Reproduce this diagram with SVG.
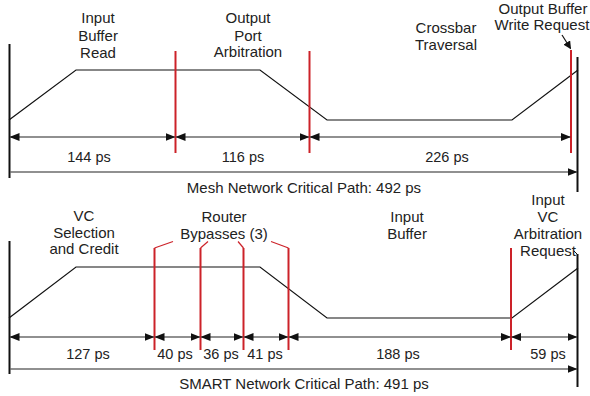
<svg xmlns="http://www.w3.org/2000/svg" width="590" height="396" viewBox="0 0 590 396">
<defs>
<marker id="ah" markerWidth="10" markerHeight="8" refX="9" refY="4" orient="auto-start-reverse" markerUnits="userSpaceOnUse">
<path d="M0,0 L10,4 L0,8 Z" fill="#111"/>
</marker>
<marker id="sh" markerWidth="8" markerHeight="8" refX="7" refY="4" orient="auto" markerUnits="userSpaceOnUse">
<path d="M0,0 L8,4 L0,8 Z" fill="#111"/>
</marker>
<style>
text{font-family:"Liberation Sans",Arial,sans-serif;font-size:15px;fill:#222;text-anchor:middle}
text.d{font-size:14.5px}
.bar{stroke:#111;stroke-width:2;fill:none}
.red{stroke:#cc2229;stroke-width:2;fill:none}
.redthin{stroke:#cc2229;stroke-width:1.2;fill:none}
.wave{stroke:#111;stroke-width:1.2;fill:none}
.dim{stroke:#222;stroke-width:1.2;fill:none;marker-start:url(#ah);marker-end:url(#ah)}
.tot{stroke:#222;stroke-width:1.2;fill:none;marker-end:url(#ah)}
</style>
</defs>

<g id="mesh">
<g id="mesh-labels">
<text x="98" y="23">Input</text>
<text x="98" y="41">Buffer</text>
<text x="98" y="58">Read</text>
<text x="248" y="23">Output</text>
<text x="248" y="41">Port</text>
<text x="248" y="57">Arbitration</text>
<text x="446" y="33">Crossbar</text>
<text x="446" y="50">Traversal</text>
<text x="543" y="14">Output Buffer</text>
<text x="542" y="30">Write Request</text>
<text class="d" x="89" y="162">144 ps</text>
<text class="d" x="243" y="162">116 ps</text>
<text class="d" x="447" y="162">226 ps</text>
<text x="304" y="193">Mesh Network Critical Path: 492 ps</text>
</g>
<g id="mesh-wave">
<polyline class="wave" points="9,120 76,70 260,70 327,120 512,120 578,70"/>
</g>
<g id="mesh-bars">
<line class="bar" x1="9.5" y1="44" x2="9.5" y2="178"/>
<line class="bar" x1="577.5" y1="57" x2="577.5" y2="192"/>
<line class="red" x1="175.5" y1="51" x2="175.5" y2="153"/>
<line class="red" x1="309.5" y1="51" x2="309.5" y2="153"/>
<line class="red" x1="571" y1="50" x2="571" y2="153"/>
</g>
</g>

<g id="smart">
<g id="smart-labels">
<text x="84" y="221">VC</text>
<text x="84" y="238">Selection</text>
<text x="84" y="254">and Credit</text>
<text x="224" y="222">Router</text>
<text x="224" y="239">Bypasses (3)</text>
<text x="407" y="222">Input</text>
<text x="407" y="239">Buffer</text>
<text x="548" y="205">Input</text>
<text x="548" y="222">VC</text>
<text x="548" y="239">Arbitration</text>
<text x="548" y="256">Request</text>
<text class="d" x="88" y="359">127 ps</text>
<text class="d" x="175" y="359">40 ps</text>
<text class="d" x="221" y="359">36 ps</text>
<text class="d" x="265" y="359">41 ps</text>
<text class="d" x="398" y="359">188 ps</text>
<text class="d" x="548" y="359">59 ps</text>
<text x="304" y="389">SMART Network Critical Path: 491 ps</text>
</g>
<g id="smart-wave">
<polyline class="wave" points="9,318 76,267 260,267 327,318 512,318 578,268"/>
</g>
<g id="smart-bars">
<line class="bar" x1="9.5" y1="241" x2="9.5" y2="374"/>
<line class="bar" x1="577.5" y1="254" x2="577.5" y2="387"/>
<line class="red" x1="154.5" y1="248" x2="154.5" y2="350"/>
<line class="red" x1="200.5" y1="248" x2="200.5" y2="350"/>
<line class="red" x1="243.5" y1="248" x2="243.5" y2="350"/>
<line class="red" x1="288.5" y1="248" x2="288.5" y2="350"/>
<line class="red" x1="511" y1="248" x2="511" y2="350"/>
</g>
</g>

<g id="connectors">
<line class="dim" x1="10.5" y1="137" x2="174.5" y2="137"/>
<line class="dim" x1="176.5" y1="137" x2="308.5" y2="137"/>
<line class="dim" x1="310.5" y1="137" x2="570" y2="137"/>
<line class="tot" x1="10.5" y1="172" x2="576.5" y2="172"/>
<line stroke="#111" stroke-width="1.2" x1="562" y1="35" x2="570.5" y2="48.5" marker-end="url(#sh)"/>

<line class="dim" x1="10.5" y1="337" x2="153.5" y2="337"/>
<line class="dim" x1="155.5" y1="337" x2="199.5" y2="337"/>
<line class="dim" x1="201.5" y1="337" x2="242.5" y2="337"/>
<line class="dim" x1="244.5" y1="337" x2="287.5" y2="337"/>
<line class="dim" x1="289.5" y1="337" x2="510" y2="337"/>
<line class="dim" x1="512" y1="337" x2="576.5" y2="337"/>
<line class="tot" x1="10.5" y1="369" x2="576.5" y2="369"/>
<polyline class="redthin" points="154.5,248 173,241.5"/>
<polyline class="redthin" points="200.5,248 208,241.5"/>
<polyline class="redthin" points="243.5,248 238,241.5"/>
<polyline class="redthin" points="288.5,248 271,241.5"/>
<polyline stroke="#111" stroke-width="1" fill="none" points="574,251 577,254"/>
</g>
</svg>
